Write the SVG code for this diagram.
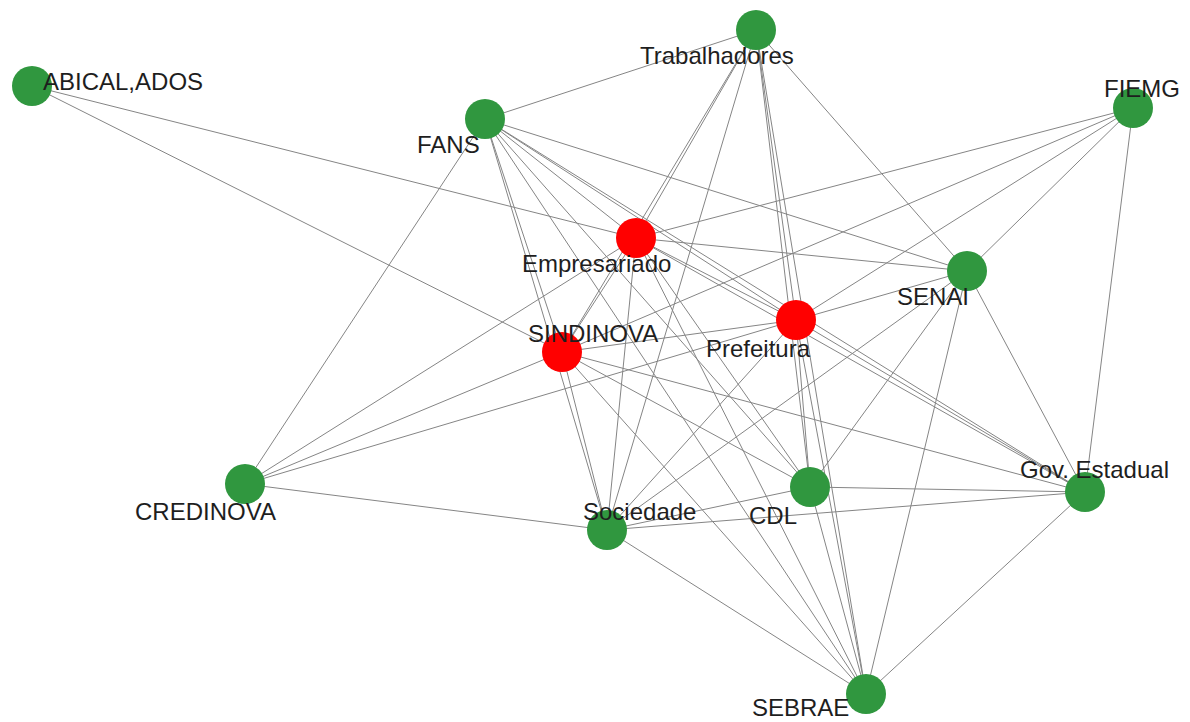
<svg xmlns="http://www.w3.org/2000/svg" width="1190" height="722" viewBox="0 0 1190 722">
<style>
.e{stroke:#858585;stroke-width:1;fill:none}
.g{fill:#30973f}
.r{fill:#ff0000}
.t{font-family:"Liberation Sans",Arial,sans-serif;font-size:24px;fill:#1e1e1e}
</style>
<rect width="1190" height="722" fill="#ffffff"/>
<g id="connectors">
<line class="e" x1="32" y1="86" x2="636" y2="238"/>
<line class="e" x1="32" y1="86" x2="562" y2="352"/>
<line class="e" x1="756" y1="30" x2="485" y2="119"/>
<line class="e" x1="756" y1="30" x2="636" y2="238"/>
<line class="e" x1="756" y1="30" x2="562" y2="352"/>
<line class="e" x1="756" y1="30" x2="607" y2="530"/>
<line class="e" x1="756" y1="30" x2="796" y2="320"/>
<line class="e" x1="756" y1="30" x2="810" y2="487"/>
<line class="e" x1="756" y1="30" x2="967" y2="271"/>
<line class="e" x1="756" y1="30" x2="866" y2="694"/>
<line class="e" x1="485" y1="119" x2="245" y2="484"/>
<line class="e" x1="485" y1="119" x2="967" y2="271"/>
<line class="e" x1="485" y1="119" x2="636" y2="238"/>
<line class="e" x1="485" y1="119" x2="562" y2="352"/>
<line class="e" x1="485" y1="119" x2="607" y2="530"/>
<line class="e" x1="485" y1="119" x2="796" y2="320"/>
<line class="e" x1="485" y1="119" x2="1085" y2="492"/>
<line class="e" x1="485" y1="119" x2="810" y2="487"/>
<line class="e" x1="485" y1="119" x2="866" y2="694"/>
<line class="e" x1="1133" y1="108" x2="636" y2="238"/>
<line class="e" x1="1133" y1="108" x2="562" y2="352"/>
<line class="e" x1="1133" y1="108" x2="796" y2="320"/>
<line class="e" x1="1133" y1="108" x2="967" y2="271"/>
<line class="e" x1="1133" y1="108" x2="1085" y2="492"/>
<line class="e" x1="245" y1="484" x2="636" y2="238"/>
<line class="e" x1="245" y1="484" x2="562" y2="352"/>
<line class="e" x1="245" y1="484" x2="796" y2="320"/>
<line class="e" x1="245" y1="484" x2="607" y2="530"/>
<line class="e" x1="636" y1="238" x2="967" y2="271"/>
<line class="e" x1="636" y1="238" x2="796" y2="320"/>
<line class="e" x1="636" y1="238" x2="1085" y2="492"/>
<line class="e" x1="636" y1="238" x2="562" y2="352"/>
<line class="e" x1="636" y1="238" x2="607" y2="530"/>
<line class="e" x1="636" y1="238" x2="810" y2="487"/>
<line class="e" x1="636" y1="238" x2="866" y2="694"/>
<line class="e" x1="967" y1="271" x2="796" y2="320"/>
<line class="e" x1="967" y1="271" x2="810" y2="487"/>
<line class="e" x1="967" y1="271" x2="866" y2="694"/>
<line class="e" x1="967" y1="271" x2="1085" y2="492"/>
<line class="e" x1="967" y1="271" x2="607" y2="530"/>
<line class="e" x1="796" y1="320" x2="562" y2="352"/>
<line class="e" x1="796" y1="320" x2="1085" y2="492"/>
<line class="e" x1="796" y1="320" x2="810" y2="487"/>
<line class="e" x1="796" y1="320" x2="866" y2="694"/>
<line class="e" x1="796" y1="320" x2="607" y2="530"/>
<line class="e" x1="562" y1="352" x2="607" y2="530"/>
<line class="e" x1="562" y1="352" x2="810" y2="487"/>
<line class="e" x1="562" y1="352" x2="866" y2="694"/>
<line class="e" x1="562" y1="352" x2="1085" y2="492"/>
<line class="e" x1="607" y1="530" x2="810" y2="487"/>
<line class="e" x1="607" y1="530" x2="1085" y2="492"/>
<line class="e" x1="607" y1="530" x2="866" y2="694"/>
<line class="e" x1="810" y1="487" x2="866" y2="694"/>
<line class="e" x1="810" y1="487" x2="1085" y2="492"/>
<line class="e" x1="1085" y1="492" x2="866" y2="694"/>
</g>
<g id="n-abicalados"><circle class="g" cx="32" cy="86" r="20"/></g>
<g id="n-trabalhadores"><circle class="g" cx="756" cy="30" r="20"/></g>
<g id="n-fans"><circle class="g" cx="485" cy="119" r="20"/></g>
<g id="n-fiemg"><circle class="g" cx="1133" cy="108" r="20"/></g>
<g id="n-empresariado"><circle class="r" cx="636" cy="238" r="20"/></g>
<g id="n-senai"><circle class="g" cx="967" cy="271" r="20"/></g>
<g id="n-prefeitura"><circle class="r" cx="796" cy="320" r="20"/></g>
<g id="n-sindinova"><circle class="r" cx="562" cy="352" r="20"/></g>
<g id="n-credinova"><circle class="g" cx="245" cy="484" r="20"/></g>
<g id="n-sociedade"><circle class="g" cx="607" cy="530" r="20"/></g>
<g id="n-cdl"><circle class="g" cx="810" cy="487" r="20"/></g>
<g id="n-gov"><circle class="g" cx="1085" cy="492" r="20"/></g>
<g id="n-sebrae"><circle class="g" cx="866" cy="694" r="20"/></g>
<g id="labels">
<text class="t" x="43" y="90">ABICAL,ADOS</text>
<text class="t" x="640" y="64">Trabalhadores</text>
<text class="t" x="417" y="153">FANS</text>
<text class="t" x="1104" y="97">FIEMG</text>
<text class="t" x="522" y="272">Empresariado</text>
<text class="t" x="897" y="305">SENAI</text>
<text class="t" x="706" y="357">Prefeitura</text>
<text class="t" x="528" y="342">SINDINOVA</text>
<text class="t" x="135" y="520">CREDINOVA</text>
<text class="t" x="583" y="520">Sociedade</text>
<text class="t" x="749" y="524">CDL</text>
<text class="t" x="1020" y="478">Gov. Estadual</text>
<text class="t" x="752" y="716">SEBRAE</text>
</g>
</svg>
